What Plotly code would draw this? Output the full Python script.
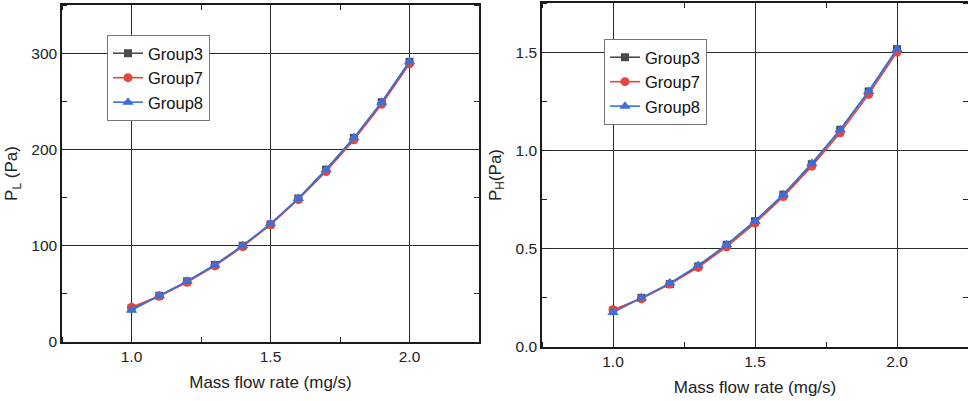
import plotly.graph_objects as go
from plotly.subplots import make_subplots

mass_flow = [1.0, 1.1, 1.2, 1.3, 1.4, 1.5, 1.6, 1.7, 1.8, 1.9, 2.0]

pl_group3 = [35, 48, 63, 80, 100, 122, 149, 179, 212, 249, 291]
pl_group7 = [36, 47.5, 62, 79, 99, 122, 148, 177, 210, 247, 289]
pl_group8 = [33, 48, 63, 80, 100, 123, 149, 179, 212, 249, 291]

ph_group3 = [0.185, 0.25, 0.32, 0.41, 0.52, 0.64, 0.775, 0.93, 1.105, 1.30, 1.515]
ph_group7 = [0.19, 0.245, 0.32, 0.405, 0.51, 0.63, 0.765, 0.92, 1.09, 1.285, 1.50]
ph_group8 = [0.175, 0.25, 0.325, 0.415, 0.52, 0.64, 0.775, 0.935, 1.105, 1.30, 1.515]

series_names = ["Group3", "Group7", "Group8"]
colors = ["#4a4a4a", "#e2463c", "#3a6fdc"]
symbols = ["square", "circle", "triangle-up"]
marker_sizes = [8, 9, 10]

FONT = "Liberation Sans, Arial, sans-serif"

fig = make_subplots(rows=1, cols=2)

for i, (name, ys) in enumerate(zip(series_names, [pl_group3, pl_group7, pl_group8])):
    fig.add_trace(go.Scatter(x=mass_flow, y=ys, name=name, mode="lines+markers",
                             line=dict(color=colors[i], width=1.6),
                             marker=dict(symbol=symbols[i], color=colors[i], size=marker_sizes[i]),
                             legend="legend"), row=1, col=1)
for i, (name, ys) in enumerate(zip(series_names, [ph_group3, ph_group7, ph_group8])):
    fig.add_trace(go.Scatter(x=mass_flow, y=ys, name=name, mode="lines+markers",
                             line=dict(color=colors[i], width=1.6),
                             marker=dict(symbol=symbols[i], color=colors[i], size=marker_sizes[i]),
                             legend="legend2"), row=1, col=2)

axis_common = dict(showline=True, linecolor="#1a1a1a", linewidth=1.5, mirror="allticks",
                   showgrid=True, gridcolor="#2a2a2a", gridwidth=1.2, zeroline=False,
                   ticks="outside", ticklen=0, tickcolor="#222", automargin=False,
                   tickfont=dict(family=FONT, size=15.5, color="#222"),
                   minor=dict(ticks="inside", ticklen=5, tickcolor="#222", showgrid=False))

fig.update_xaxes(range=[0.75, 2.25], dtick=0.5, tick0=0, tickformat=".1f",
                 title=dict(text="Mass flow rate (mg/s)", font=dict(family=FONT, size=17, color="#222"), standoff=12),
                 **axis_common)
fig.update_xaxes(minor_dtick=0.25)

fig.update_xaxes(domain=[62/968, 479/968], row=1, col=1)
fig.update_xaxes(domain=[542/968, 1.0], row=1, col=2)

fig.update_yaxes(range=[0, 350], dtick=100, row=1, col=1,
                 domain=[1 - 342/401, 1 - 5/401],
                 title=dict(text="P<sub>L</sub> (Pa)", font=dict(family=FONT, size=17, color="#222"), standoff=9),
                 **axis_common)
fig.update_yaxes(minor_dtick=50, row=1, col=1)
fig.update_yaxes(range=[0, 1.75], dtick=0.5, tickformat=".1f", row=1, col=2,
                 domain=[1 - 347/401, 1 - 3/401],
                 title=dict(text="P<sub>H</sub>(Pa)", font=dict(family=FONT, size=17, color="#222"), standoff=10),
                 **axis_common)
fig.update_yaxes(minor_dtick=0.25, row=1, col=2)

legend_common = dict(xanchor="left", yanchor="top", bgcolor="white",
                     bordercolor="#777", borderwidth=1,
                     font=dict(family=FONT, size=16.5, color="#111"),
                     tracegroupgap=0, itemwidth=30)

fig.update_layout(
    width=968, height=401,
    margin=dict(l=0, r=0, t=0, b=0),
    paper_bgcolor="white", plot_bgcolor="white",
    showlegend=True,
    legend=dict(x=107/968, y=1 - 35/401, **legend_common),
    legend2=dict(x=604/968, y=1 - 39/401, **legend_common),
)

fig.write_html("out.html", config={"displayModeBar": False},
               post_script="document.body.style.margin='0';document.body.style.overflow='hidden';")
